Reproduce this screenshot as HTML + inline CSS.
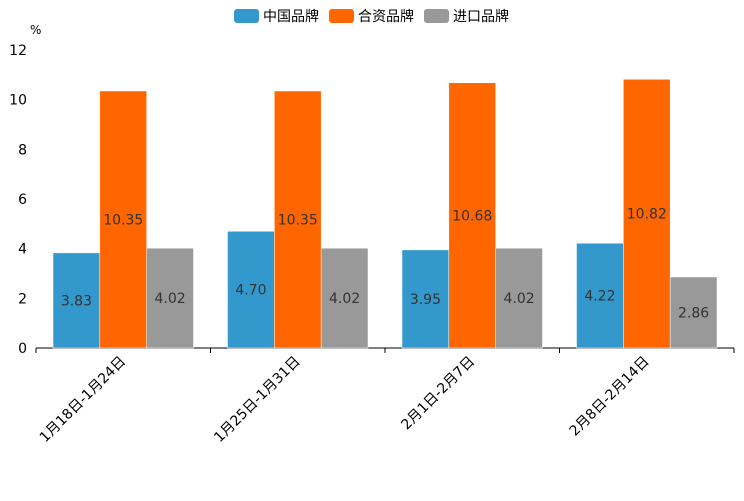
<!DOCTYPE html>
<html><head><meta charset="utf-8"><style>
body{margin:0;background:#fff;}
svg text{font-family:"DejaVu Sans","Noto Sans CJK SC",sans-serif;}
</style></head><body>
<svg width="744" height="496" xmlns="http://www.w3.org/2000/svg">
<g id="legend"></g>
<g id="axes"></g>
<g id="bars"></g>
</svg>
<script>
const categories=["1月18日-1月24日","1月25日-1月31日","2月1日-2月7日","2月8日-2月14日"];
const seriesNames=["中国品牌","合资品牌","进口品牌"];
const chinaValues=[3.83,4.70,3.95,4.22];
const jointValues=[10.35,10.35,10.68,10.82];
const importValues=[4.02,4.02,4.02,2.86];
const yTicks=[0,2,4,6,8,10,12];
const colors=["#3399cc","#ff6600","#999999"];
const NS="http://www.w3.org/2000/svg";
const x0=36,x1=734,y0=348,yTop=50,yMax=12;
const yScale=v=>y0-(v/yMax)*(y0-yTop);
const bandW=(x1-x0)/categories.length;
const pad=17,barW=(bandW-2*pad)/3;
function mk(tag,attrs,parent,txt){const e=document.createElementNS(NS,tag);for(const k in attrs)e.setAttribute(k,attrs[k]);if(txt!==undefined)e.textContent=txt;parent.appendChild(e);return e;}
const axes=document.getElementById('axes'),bars=document.getElementById('bars'),legend=document.getElementById('legend');
let t=mk('text',{x:30,y:34,'font-size':12,fill:'#000'},axes,'%');


yTicks.forEach(v=>{const e=mk('text',{x:27,y:yScale(v)+5,'font-size':14,'text-anchor':'end',fill:'#000'},axes,String(v));

});
let ax=mk('line',{x1:x0,y1:y0,x2:x1,y2:y0,stroke:'#000','stroke-width':1},axes);


for(let i=0;i<=categories.length;i++){const tx=x0+i*bandW;const tk=mk('line',{x1:tx,y1:y0,x2:tx,y2:y0+5,stroke:'#000'},axes);

}
const all=[chinaValues,jointValues,importValues];
categories.forEach((c,i)=>{
 const bx=x0+i*bandW+pad;
 all.forEach((arr,s)=>{const v=arr[i];const x=bx+s*barW,y=yScale(v);
  const r=mk('rect',{x:x,y:y,width:barW,height:y0-y,fill:colors[s],stroke:'#fff','stroke-width':0.5},bars);
  
  
  const l=mk('text',{x:x+barW/2,y:(y+y0)/2+5,'font-size':14,'text-anchor':'middle',fill:'#333'},bars,v.toFixed(2));
  
  
 });
 const cx=x0+(i+0.5)*bandW+3;
 const cl=mk('text',{x:cx,y:y0+14,'font-size':14,'text-anchor':'end',fill:'#000',transform:`rotate(-45 ${cx} ${y0+14})`},axes,c);
 
 
});
let cur=234;
seriesNames.forEach((n,s)=>{
 const g=mk('g',{},legend);
 
 
 mk('rect',{x:cur,y:9,width:25,height:14,rx:3,fill:colors[s]},g);
 mk('text',{x:cur+29,y:21,'font-size':14,fill:'#000'},g,n);
 cur+=95;
});
</script>
</body></html>
